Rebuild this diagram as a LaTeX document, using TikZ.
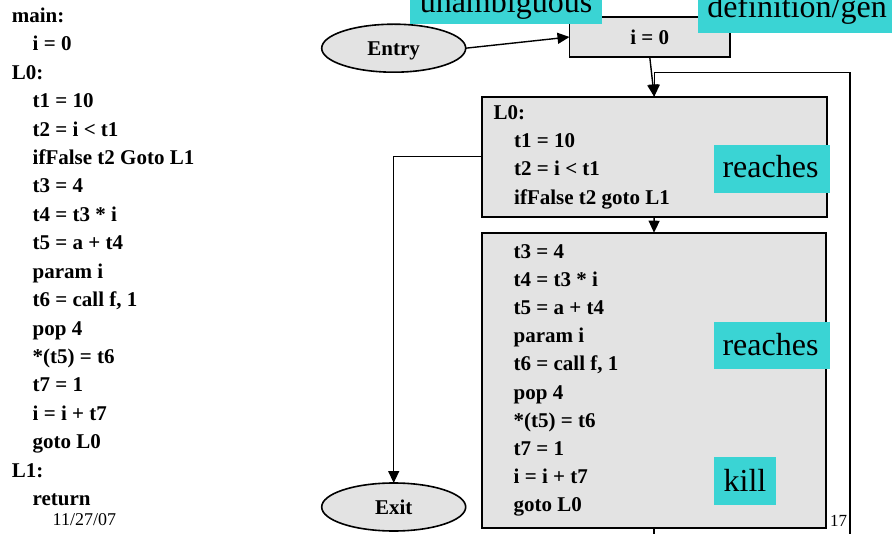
\documentclass[tikz,border=0pt]{standalone}
\usepackage{fontspec}
\setmainfont{Liberation Serif}
\usetikzlibrary{arrows.meta,shapes.geometric}
\definecolor{tagcyan}{RGB}{58,212,212}
\definecolor{boxgray}{RGB}{227,227,227}

\begin{document}
\begin{tikzpicture}[x=1pt,y=-1pt,
  codefont/.style={font=\bfseries\fontsize{21}{21}\selectfont},
  code/.style={codefont, anchor=base west, inner sep=0pt},
  block/.style={rectangle, draw=black, line width=1.8pt, fill=boxgray,
    inner sep=0pt, outer sep=0pt},
  term/.style={ellipse, draw=black, line width=1.6pt, fill=boxgray,
    minimum width=144pt, minimum height=48pt, inner sep=0pt, outer sep=0pt,
    codefont, text depth=0pt},
  edge/.style={line width=1.4pt, -{Triangle[length=12pt,width=11pt]}},
  tag/.style={rectangle, fill=tagcyan, inner sep=0pt, outer sep=0pt,
    anchor=north west},
  tagtext/.style={anchor=base, inner sep=0pt, font=\fontsize{32}{32}\selectfont},
  note/.style={anchor=base west, inner sep=0pt}
]
\useasboundingbox (0,0) rectangle (896,534);

% linear three-address code listing
\foreach \txt/\ind [count=\k from 0] in {main:/0, {i = 0}/1, L0:/0,
    {t1 = 10}/1, {t2 = i < t1}/1, {ifFalse t2 Goto L1}/1, {t3 = 4}/1,
    {t4 = t3 * i}/1, {t5 = a + t4}/1, {param i}/1, {t6 = call f, 1}/1,
    {pop 4}/1, {*(t5) = t6}/1, {t7 = 1}/1, {i = i + t7}/1, {goto L0}/1,
    L1:/0, return/1}
  \node[code] (c\k) at ({11.7+20.8*\ind}, {22.6+28.4*(\k)}) {\txt};

% flow graph blocks
\node[term] (entry) at (393.7,48.2) {Entry};
\node[term] (exit) at (393.7,507) {Exit};
\node[block, codefont, minimum width=160.5pt, minimum height=40pt]
  (init) at (649.75,37) {i = 0};
\node[block, minimum width=345pt, minimum height=120pt, anchor=north west]
  (L0) at (481.7,96.7) {};
\node[block, minimum width=344.5pt, minimum height=295.6pt, anchor=north west]
  (body) at (481.7,232.7) {};

% statements of block L0
\node[code] (h0) at (493.3,119.5) {L0:};
\foreach \txt [count=\k from 1] in {{t1 = 10}, {t2 = i < t1}, {ifFalse t2 goto L1}}
  \node[code] (h\k) at (514, {119.5+28.2*\k}) {\txt};

% statements of the loop body
\foreach \txt [count=\k from 0] in {{t3 = 4}, {t4 = t3 * i}, {t5 = a + t4},
    {param i}, {t6 = call f, 1}, {pop 4}, {*(t5) = t6}, {t7 = 1},
    {i = i + t7}, {goto L0}}
  \node[code] (b\k) at (513.5, {258.3+28.17*\k}) {\txt};

% control-flow edges
\coordinate (back) at (850,560);
\coordinate (backtop) at (850,72.7);
\draw[edge] (entry.east) -- (init.west);
\draw[edge] (init.south) -- (L0.north);
\draw[edge] (L0.south) -- (body.north);
\draw[edge] (L0.west) -| (exit.north);
\draw[edge] (body.south) |- (back) -- (backtop) -| (L0.north);

% annotations
\node[tag, minimum width=192pt, minimum height=29.5pt] (tu) at (410,-5) {};
\node[tagtext] (tut) at (506,12.5) {unambiguous};
\node[tag, minimum width=194.3pt, minimum height=37.7pt] (td) at (697.7,-5) {};
\node[tagtext] (tdt) at (797,17.5) {definition/gen};
\node[tag, minimum width=116pt, minimum height=47.7pt] (tr1) at (714,145) {};
\node[tagtext] (tr1t) at (770.5,177.7) {reaches};
\node[tag, minimum width=116pt, minimum height=47pt] (tr2) at (714,322) {};
\node[tagtext] (tr2t) at (770.5,355) {reaches};
\node[tag, minimum width=62pt, minimum height=48pt] (tk) at (714,457) {};
\node[tagtext] (tkt) at (745,491) {kill};

% footer
\node[note, font=\fontsize{18}{18}\selectfont] (date) at (52.5,525.5) {11/27/07};
\node[note, font=\fontsize{17}{17}\selectfont] (page) at (830,526) {17};
\end{tikzpicture}
\end{document}
